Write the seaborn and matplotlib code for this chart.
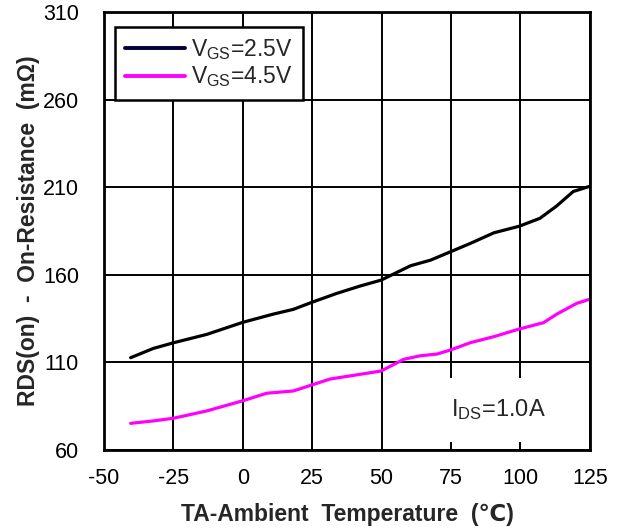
import matplotlib
matplotlib.use("Agg")
import matplotlib.pyplot as plt
import seaborn as sns
import pandas as pd

temp_25 = [-40.4, -32.2, -25, -13, 0, 11, 18.2, 24.8, 33.8, 42.2, 49.8, 60.4, 67.6, 74.8,
           82, 90.4, 99.6, 107, 113, 119, 124.8]
rds_25 = [112.7, 118, 121.2, 126, 132.9, 137.6, 140.3, 144.3, 149.4, 153.6, 157, 165.2, 168.4, 173.2,
          178, 184, 187.8, 192.3, 199.3, 207.6, 210.5]
temp_45 = [-40.4, -32.2, -25, -13, 0, 8.6, 18.2, 24.8, 31.4, 42.2, 49.8, 58, 64, 70, 74.8,
           82, 90.4, 99.6, 108.3, 113, 120.2, 124.8]
rds_45 = [75.2, 76.6, 78.1, 82.3, 88.1, 92.4, 93.7, 97.1, 100.5, 103.2, 105.1, 111.8, 113.8, 114.8, 117.1,
          121.3, 124.7, 129.1, 132.7, 137.5, 143.7, 146]
series_labels = [r'V$_{\rm GS}$=2.5V', r'V$_{\rm GS}$=4.5V']
x_ticks = [-50, -25, 0, 25, 50, 75, 100, 125]
y_ticks = [60, 110, 160, 210, 260, 310]

sns.set_theme(style="white")
plt.rcParams['font.family'] = ['Liberation Sans', 'DejaVu Sans']
plt.rcParams['axes.unicode_minus'] = False
plt.rcParams['mathtext.fontset'] = 'custom'
plt.rcParams['mathtext.rm'] = 'Liberation Sans'
plt.rcParams['mathtext.it'] = 'Liberation Sans:italic'
plt.rcParams['mathtext.bf'] = 'Liberation Sans:bold'

df = pd.concat([
    pd.DataFrame({'T': temp_25, 'R': rds_25, 'series': series_labels[0]}),
    pd.DataFrame({'T': temp_45, 'R': rds_45, 'series': series_labels[1]}),
])

fig = plt.figure(figsize=(6.19, 5.30), dpi=100)
ax = fig.add_axes([0.168, 0.151, 0.785, 0.826])
sns.lineplot(data=df, x='T', y='R', hue='series',
             palette={series_labels[0]: '#000000', series_labels[1]: '#ff00ff'},
             linewidth=2.3, ax=ax, sort=True)

ax.set_xlim(-50, 125)
ax.set_ylim(60, 310)
ax.set_xticks(x_ticks)
ax.set_yticks(y_ticks)
ax.tick_params(length=0, labelsize=15.5, colors='black')
ax.tick_params(axis='y', pad=18)
ax.tick_params(axis='x', pad=13)
ax.grid(True, color='black', linewidth=1.4)
for s in ax.spines.values():
    s.set_color('black')
    s.set_linewidth(2)

ax.set_xlabel('TA-Ambient  Temperature  (℃)', fontsize=16.5, fontweight='bold', labelpad=10)
ax.set_ylabel('RDS(on)  -  On-Resistance  (mΩ)', fontsize=16.5, fontweight='bold', labelpad=2)

handles, labels = ax.get_legend_handles_labels()
for h in handles:
    h.set_linewidth(2.8)
handles[0].set_color('#00003a')
leg = ax.legend(handles, labels, loc='upper left', bbox_to_anchor=(0.023, 0.966),
                borderaxespad=0, fontsize=16.5, frameon=True, fancybox=False,
                handlelength=2.6, handletextpad=0.25, borderpad=0.45, labelspacing=0.1)
leg.get_frame().set_edgecolor('black')
leg.get_frame().set_linewidth(1.8)
leg.get_frame().set_alpha(1)

ax.text(92, 83, r'I$_{\rm DS}$=1.0A', fontsize=17, ha='center', va='center',
        bbox=dict(facecolor='white', edgecolor='none', pad=14), zorder=5)

fig.savefig('out.png', dpi=100)
